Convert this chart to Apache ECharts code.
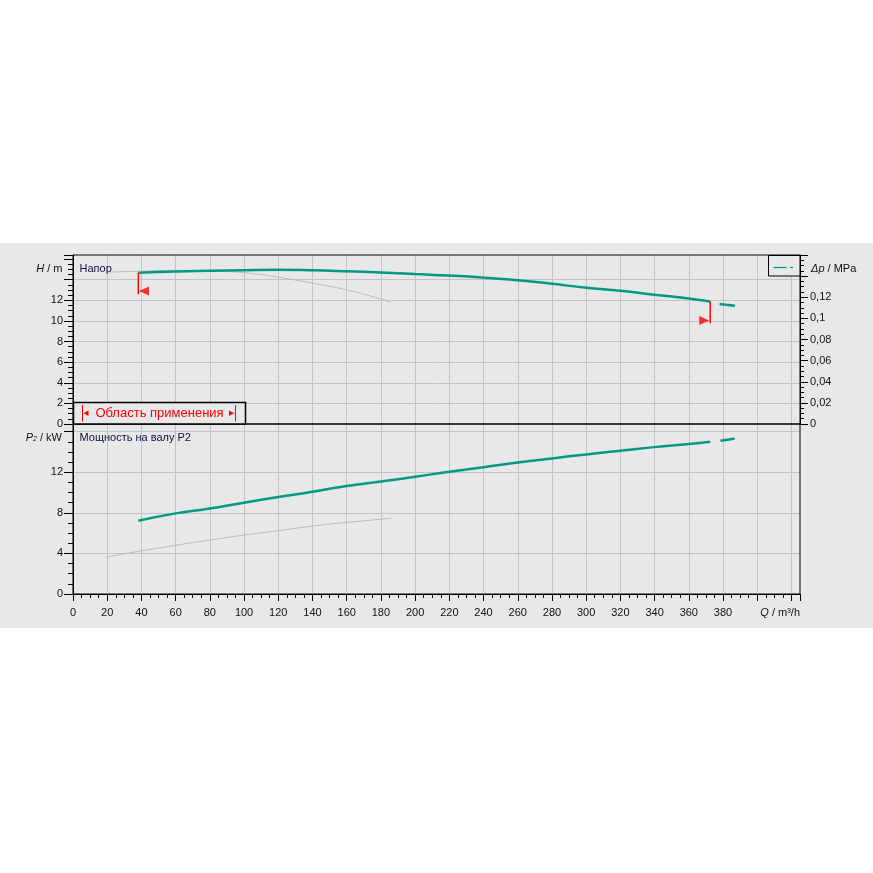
<!DOCTYPE html>
<html>
<head>
<meta charset="utf-8">
<script src="https://cdn.jsdelivr.net/npm/echarts@6/dist/echarts.min.js"></script>
<style>
html,body{margin:0;padding:0;background:#fff;}
#c{width:873px;height:873px;}
</style>
</head>
<body>
<div id="c"></div>
<script>
// ---- data ----
var headQ    = [38.2, 60, 80, 100, 120, 140, 160, 180, 200, 220, 240, 260, 280, 300, 320, 340, 360, 372.5];
var headH    = [14.67, 14.80, 14.87, 14.93, 14.97, 14.92, 14.82, 14.70, 14.55, 14.40, 14.20, 13.96, 13.60, 13.22, 12.93, 12.55, 12.18, 11.88];
var headTailQ = [378, 382, 387];
var headTailH = [11.65, 11.57, 11.48];
var headRefQ = [20, 40, 60, 75, 90, 105, 120, 140, 160, 180, 186];
var headRefH = [14.73, 14.83, 14.90, 14.90, 14.80, 14.60, 14.25, 13.67, 13.01, 12.13, 11.80];

var powQ    = [38.2, 60, 80, 100, 120, 140, 160, 180, 200, 220, 240, 260, 280, 300, 320, 340, 360, 372.5];
var powP    = [7.22, 7.95, 8.42, 9.00, 9.56, 10.08, 10.65, 11.08, 11.55, 12.06, 12.50, 12.96, 13.37, 13.76, 14.12, 14.48, 14.78, 15.00];
var powTailQ = [378.5, 382.5, 386.7];
var powTailP = [15.10, 15.20, 15.33];
var powRefQ = [19.3, 35, 60, 80, 100, 120, 140, 160, 186];
var powRefP = [3.62, 4.11, 4.80, 5.32, 5.81, 6.24, 6.70, 7.06, 7.46];

// operating range limits (Q, H top, H bottom, H of arrow, arrow Q)
var limitLeft  = {q: 38.2,  hTop: 14.67, hBot: 12.59, hArrow: 12.91, qArrow: 41.5};
var limitRight = {q: 372.5, hTop: 11.88, hBot: 9.78,  hArrow: 10.05, qArrow: 369.0};

var xTickMax = 380;
var hLabelMax = 12, pLabelMax = 12, dpLabelMax = 0.12;

function pairs(a, b) { return a.map(function (v, i) { return [v, b[i]]; }); }

var FONT = 'Liberation Sans, Arial, sans-serif';
var GREEN = '#009a84';
var GREY = '#bcbcbc';
var GRID = '#c4c4c4';
var BG = '#e8e8e8';

var chart = echarts.init(document.getElementById('c'), null, {renderer: 'canvas'});

var hGridColors = [GRID, GRID, GRID, GRID, GRID, GRID, GRID, 'rgba(0,0,0,0)'];

var option = {
  animation: false,
  backgroundColor: '#ffffff',
  grid: [
    {left: 73, right: 73, top: 255, height: 169, show: true, borderColor: '#000', borderWidth: 1, backgroundColor: 'transparent', z: 3},
    {left: 73, right: 73, top: 424, height: 170, show: true, borderColor: '#000', borderWidth: 1, backgroundColor: 'transparent', z: 3}
  ],
  xAxis: [
    {type: 'value', gridIndex: 0, min: 0, max: 425, interval: 20,
     axisLine: {show: false}, axisTick: {show: false}, axisLabel: {show: false},
     splitLine: {show: true, showMinLine: false, showMaxLine: false, lineStyle: {color: GRID, width: 1}}},
    {type: 'value', gridIndex: 1, min: 0, max: 425, interval: 20,
     axisLine: {show: true, onZero: false, lineStyle: {color: '#000', width: 1}},
     axisTick: {show: true, inside: false, length: 7, lineStyle: {color: '#000'}},
     minorTick: {show: true, splitNumber: 4, length: 4, lineStyle: {color: '#000'}},
     axisLabel: {show: true, margin: 13, color: '#111', fontSize: 11, fontFamily: FONT,
       formatter: function (v) { return v <= xTickMax ? String(v) : ''; }},
     splitLine: {show: true, showMinLine: false, showMaxLine: false, lineStyle: {color: GRID, width: 1}}}
  ],
  yAxis: [
    {type: 'value', gridIndex: 0, position: 'left', min: 0, max: 16.4, interval: 2,
     axisLine: {show: true, onZero: false, lineStyle: {color: '#000', width: 1}},
     axisTick: {show: true, length: 9, lineStyle: {color: '#000'}},
     minorTick: {show: true, splitNumber: 4, length: 5, lineStyle: {color: '#000'}},
     axisLabel: {margin: 10, color: '#111', fontSize: 11, fontFamily: FONT,
       formatter: function (v) { return v <= hLabelMax ? String(v) : ''; }},
     splitLine: {show: true, showMinLine: false, showMaxLine: false, lineStyle: {color: hGridColors, width: 1}}},
    {type: 'value', gridIndex: 0, position: 'right', min: 0, max: 0.16, interval: 0.02,
     axisLine: {show: true, onZero: false, lineStyle: {color: '#000', width: 1}},
     axisTick: {show: true, length: 8, lineStyle: {color: '#000'}},
     minorTick: {show: true, splitNumber: 4, length: 4, lineStyle: {color: '#000'}},
     axisLabel: {margin: 10, color: '#111', fontSize: 11, fontFamily: FONT,
       formatter: function (v) {
         if (v > dpLabelMax + 0.005) return '';
         if (Math.abs(v) < 1e-9) return '0';
         return String(+v.toFixed(2)).replace('.', ',');
       }},
     splitLine: {show: false}},
    {type: 'value', gridIndex: 1, position: 'left', min: 0, max: 16.76, interval: 4,
     axisLine: {show: true, onZero: false, lineStyle: {color: '#000', width: 1}},
     axisTick: {show: true, length: 9, lineStyle: {color: '#000'}},
     minorTick: {show: true, splitNumber: 4, length: 5, lineStyle: {color: '#000'}},
     axisLabel: {margin: 10, color: '#111', fontSize: 11, fontFamily: FONT,
       formatter: function (v) { return v <= pLabelMax ? String(v) : ''; }},
     splitLine: {show: true, showMinLine: false, showMaxLine: false, lineStyle: {color: GRID, width: 1}}}
  ],
  series: [
    {name: 'H ref', type: 'line', xAxisIndex: 0, yAxisIndex: 0, data: pairs(headRefQ, headRefH),
     smooth: true, symbol: 'none', lineStyle: {color: GREY, width: 1}, z: 3},
    {name: 'H', type: 'line', xAxisIndex: 0, yAxisIndex: 0, data: pairs(headQ, headH),
     smooth: true, symbol: 'none', lineStyle: {color: GREEN, width: 2.5}, z: 5},
    {name: 'H tail', type: 'line', xAxisIndex: 0, yAxisIndex: 0, data: pairs(headTailQ, headTailH),
     smooth: true, symbol: 'none', lineStyle: {color: GREEN, width: 2.5}, z: 5},
    {name: 'P2 ref', type: 'line', xAxisIndex: 1, yAxisIndex: 2, data: pairs(powRefQ, powRefP),
     smooth: true, symbol: 'none', lineStyle: {color: GREY, width: 1}, z: 3},
    {name: 'P2', type: 'line', xAxisIndex: 1, yAxisIndex: 2, data: pairs(powQ, powP),
     smooth: true, symbol: 'none', lineStyle: {color: GREEN, width: 2.5}, z: 5},
    {name: 'P2 tail', type: 'line', xAxisIndex: 1, yAxisIndex: 2, data: pairs(powTailQ, powTailP),
     smooth: true, symbol: 'none', lineStyle: {color: GREEN, width: 2.5}, z: 5},
    {name: 'limitL', type: 'line', xAxisIndex: 0, yAxisIndex: 0,
     data: [[limitLeft.q, limitLeft.hTop], [limitLeft.q, limitLeft.hBot]],
     symbol: 'none', lineStyle: {color: '#ff0000', width: 1.5}, z: 6},
    {name: 'limitR', type: 'line', xAxisIndex: 0, yAxisIndex: 0,
     data: [[limitRight.q, limitRight.hTop], [limitRight.q, limitRight.hBot]],
     symbol: 'none', lineStyle: {color: '#ff0000', width: 1.5}, z: 6},
    {name: 'arrowL', type: 'scatter', xAxisIndex: 0, yAxisIndex: 0,
     data: [[limitLeft.qArrow, limitLeft.hArrow]],
     symbol: 'path://M10,0 L0,5 L10,10 Z', symbolSize: [10, 9],
     itemStyle: {color: '#ff0000'}, z: 6},
    {name: 'arrowR', type: 'scatter', xAxisIndex: 0, yAxisIndex: 0,
     data: [[limitRight.qArrow, limitRight.hArrow]],
     symbol: 'path://M0,0 L10,5 L0,10 Z', symbolSize: [10, 9],
     itemStyle: {color: '#ff0000'}, z: 6}
  ],
  graphic: [
    {type: 'rect', z: -10, silent: true, shape: {x: 0, y: 243, width: 873, height: 385}, style: {fill: BG}},
    // axis titles
    {type: 'text', z: 50, x: 62.5, y: 268.5, style: {text: '{i|H} / m', align: 'right', verticalAlign: 'middle',
      font: '11px ' + FONT, fill: '#111', rich: {i: {fontStyle: 'italic', fontSize: 11, fontFamily: FONT, fill: '#111'}}}},
    {type: 'text', z: 50, x: 79.5, y: 268.5, style: {text: 'Напор', verticalAlign: 'middle', font: '11px ' + FONT, fill: '#0a1440'}},
    {type: 'text', z: 50, x: 811, y: 269, style: {text: '{i|Δp} / MPa', verticalAlign: 'middle',
      font: '11px ' + FONT, fill: '#111', rich: {i: {fontStyle: 'italic', fontSize: 11, fontFamily: FONT, fill: '#111'}}}},
    {type: 'text', z: 50, x: 62, y: 437.5, style: {text: '{i|P}{s|2} / kW', align: 'right', verticalAlign: 'middle',
      font: '11px ' + FONT, fill: '#111', rich: {i: {fontStyle: 'italic', fontSize: 11, fontFamily: FONT, fill: '#111'},
        s: {fontStyle: 'italic', fontSize: 7, fontFamily: FONT, fill: '#111', verticalAlign: 'bottom', padding: [3, 0, 0, 0]}}}},
    {type: 'text', z: 50, x: 79.5, y: 437.5, style: {text: 'Мощность на валу P2', verticalAlign: 'middle', font: '11px ' + FONT, fill: '#0a1440'}},
    {type: 'text', z: 50, x: 800, y: 613, style: {text: '{i|Q} / m³/h', align: 'right', verticalAlign: 'middle',
      font: '11px ' + FONT, fill: '#111', rich: {i: {fontStyle: 'italic', fontSize: 11, fontFamily: FONT, fill: '#111'}}}},
    // legend box
    {type: 'rect', z: 40, shape: {x: 768.5, y: 255.5, width: 31.5, height: 20.5}, style: {fill: BG, stroke: '#000', lineWidth: 1}},
    {type: 'line', z: 41, shape: {x1: 773.5, y1: 267.5, x2: 786.5, y2: 267.5}, style: {stroke: GREEN, lineWidth: 1.2}},
    {type: 'line', z: 41, shape: {x1: 790, y1: 267.5, x2: 793, y2: 267.5}, style: {stroke: GREEN, lineWidth: 1.2}},
    // operating range box
    {type: 'rect', z: 40, shape: {x: 73.5, y: 402.5, width: 172, height: 21.5}, style: {fill: BG, stroke: '#000', lineWidth: 1.5}},
    {type: 'line', z: 41, shape: {x1: 82.5, y1: 405, x2: 82.5, y2: 421.5}, style: {stroke: '#ff0000', lineWidth: 1}},
    {type: 'polygon', z: 41, shape: {points: [[83.5, 413.3], [88.5, 410.5], [88.5, 416.1]]}, style: {fill: '#ff0000'}},
    {type: 'text', z: 41, x: 159.5, y: 413.3, style: {text: 'Область применения', align: 'center', verticalAlign: 'middle', font: '13px ' + FONT, fill: '#ff0000'}},
    {type: 'polygon', z: 41, shape: {points: [[234, 413.3], [229, 410.5], [229, 416.1]]}, style: {fill: '#ff0000'}},
    {type: 'line', z: 41, shape: {x1: 235.5, y1: 405, x2: 235.5, y2: 421.5}, style: {stroke: '#ff0000', lineWidth: 1}}
  ]
};
chart.setOption(option);
</script>
</body>
</html>
